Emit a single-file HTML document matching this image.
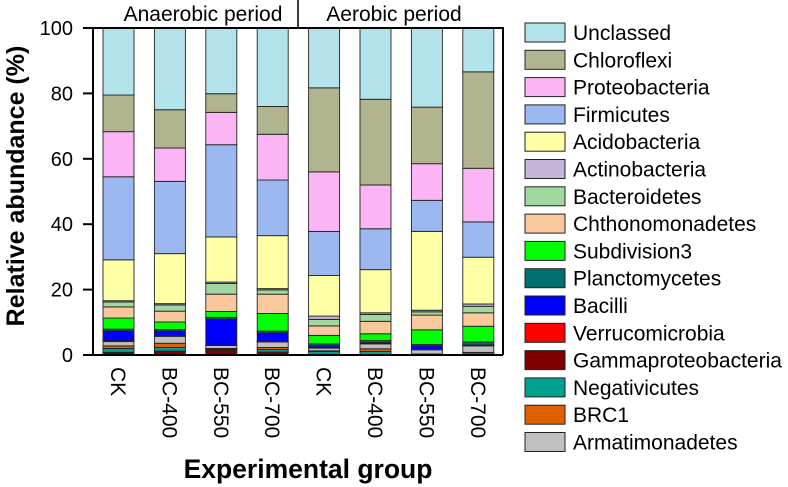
<!DOCTYPE html>
<html><head><meta charset="utf-8"><style>
body{margin:0;background:#fff;}
svg{display:block;font-family:"Liberation Sans",Arial,sans-serif;}
</style></head><body>
<svg id="chart" width="788" height="487" viewBox="0 0 788 487">
<g id="bars"></g>
<g id="axes"></g>
<g id="legend"></g>
</svg>
<script>
const categories = ["CK","BC-400","BC-550","BC-700","CK","BC-400","BC-550","BC-700"];
const yTicks = [0,20,40,60,80,100];
// stacking order bottom -> top
const seriesNames = ["Gammaproteobacteria","Negativicutes","BRC1","Armatimonadetes","Verrucomicrobia","Bacilli","Planctomycetes","Subdivision3","Chthonomonadetes","Bacteroidetes","Actinobacteria","Acidobacteria","Firmicutes","Proteobacteria","Chloroflexi","Unclassed"];
const gamma = [0.8,1.2,1.5,0.9,0.2,0.1,0.1,0.2];
const negativicutes = [1.2,1.1,0.2,0.8,0.9,1.0,0.1,0.1];
const brc1 = [0.8,1.3,0.3,0.6,0.2,0.8,0.1,0.5];
const armatimonadetes = [1.3,2.1,0.9,1.7,0.8,1.5,1.3,2.0];
const verrucomicrobia = [0.3,0.3,0.1,0.2,0.1,0.1,0.1,0.1];
const bacilli = [3.0,1.4,8.0,2.6,0.6,0.3,1.1,0.2];
const planctomycetes = [0.5,0.4,0.5,0.5,0.6,0.6,0.4,0.9];
const subdivision3 = [3.4,2.3,1.8,5.4,2.6,2.1,4.5,4.8];
const chthonomonadetes = [3.4,3.3,5.3,5.9,2.9,3.8,4.5,4.1];
const bacteroidetes = [1.5,1.9,3.3,1.3,2.0,2.1,1.0,2.0];
const actinobacteria = [0.4,0.4,0.4,0.4,1.0,0.5,0.5,0.7];
const acidobacteria = [12.5,15.3,13.8,16.2,12.4,13.2,24.1,14.3];
const firmicutes = [25.4,22.1,28.2,17.0,13.5,12.5,9.5,10.8];
const proteobacteria = [13.8,10.2,9.9,14.0,18.2,13.4,11.2,16.4];
const chloroflexi = [11.2,11.7,5.7,8.5,25.7,26.2,17.3,29.5];
const unclassed = [20.5,25.0,20.1,24.0,18.3,21.8,24.2,13.4];
const seriesValues = [gamma,negativicutes,brc1,armatimonadetes,verrucomicrobia,bacilli,planctomycetes,subdivision3,chthonomonadetes,bacteroidetes,actinobacteria,acidobacteria,firmicutes,proteobacteria,chloroflexi,unclassed];
const legendNames = ["Unclassed","Chloroflexi","Proteobacteria","Firmicutes","Acidobacteria","Actinobacteria","Bacteroidetes","Chthonomonadetes","Subdivision3","Planctomycetes","Bacilli","Verrucomicrobia","Gammaproteobacteria","Negativicutes","BRC1","Armatimonadetes"];

const colors = {"Unclassed":"#b3e3ea","Chloroflexi":"#b0b590","Proteobacteria":"#fbb5f5","Firmicutes":"#9bb9f0","Acidobacteria":"#ffffa5","Actinobacteria":"#c4b4d8","Bacteroidetes":"#a0d8a0","Chthonomonadetes":"#fbc89d","Subdivision3":"#00ff00","Planctomycetes":"#007070","Bacilli":"#0000ff","Verrucomicrobia":"#ff0000","Gammaproteobacteria":"#800000","Negativicutes":"#00a090","BRC1":"#e06000","Armatimonadetes":"#c0c0c0"};

const NS="http://www.w3.org/2000/svg";
const X0=93,X1=503,Y0=355,Y1=28;
const yScale=v=>Y0-(v/100)*(Y0-Y1);
const step=51.4, barW=31, firstX=103;
const xScale=i=>firstX+i*step;
function mk(tag,attrs,parent){const e=document.createElementNS(NS,tag);for(const k in attrs)e.setAttribute(k,attrs[k]);parent.appendChild(e);return e;}

const gb=document.getElementById('bars');
categories.forEach((c,i)=>{
  let cum=0;
  seriesValues.forEach((arr,s)=>{
    const v=arr[i];
    const r=mk('rect',{x:xScale(i),y:yScale(cum+v),width:barW,height:Math.max(0,yScale(cum)-yScale(cum+v)),fill:colors[seriesNames[s]],stroke:'#222','stroke-width':0.9},gb);
    
    
    cum+=v;
  });
});

const ga=document.getElementById('axes');
const frame=mk('path',{d:`M${X0} ${Y1} H${X1} V${Y0} M${X0} ${Y1} V${Y0}`,fill:'none',stroke:'#000','stroke-width':2},ga);


const xa=mk('line',{x1:83,y1:Y0,x2:X1,y2:Y0,stroke:'#000','stroke-width':2},ga);


yTicks.forEach(t=>{
  const y=yScale(t);
  const tk=mk('line',{x1:83,y1:y,x2:X0,y2:y,stroke:'#000','stroke-width':2},ga);
  
  
  const lb=mk('text',{x:73,y:y+7,'text-anchor':'end','font-size':20,fill:'#000'},ga);
  lb.textContent=t;
  
  
});
categories.forEach((c,i)=>{
  const cx=xScale(i)+barW/2;
  const lb=mk('text',{x:0,y:0,transform:`translate(${cx-7.5},367) rotate(90)`,'font-size':21,fill:'#000'},ga);
  lb.textContent=c;
  
  
});
const div=mk('line',{x1:298,y1:0,x2:298,y2:Y1,stroke:'#000','stroke-width':1.5},ga);


const an=mk('text',{x:203,y:21,'text-anchor':'middle','font-size':21,fill:'#000'},ga);
an.textContent='Anaerobic period';


const ae=mk('text',{x:394,y:21,'text-anchor':'middle','font-size':21,fill:'#000'},ga);
ae.textContent='Aerobic period';


const yt=mk('text',{x:0,y:0,transform:'translate(24,186) rotate(-90)','text-anchor':'middle','font-size':25,'font-weight':'bold',fill:'#000'},ga);
yt.textContent='Relative abundance (%)';


const xt=mk('text',{x:308,y:478,'text-anchor':'middle','font-size':26.5,'font-weight':'bold',fill:'#000'},ga);
xt.textContent='Experimental group';



const gl=document.getElementById('legend');
legendNames.forEach((n,k)=>{
  const y=23+k*27.3;
  const sw=mk('rect',{x:525,y:y,width:40,height:19,fill:colors[n],stroke:'#222','stroke-width':1},gl);
  
  
  const t=mk('text',{x:573,y:y+17,'font-size':21,fill:'#000'},gl);
  t.textContent=n;
  
  
});
</script>
</body></html>
